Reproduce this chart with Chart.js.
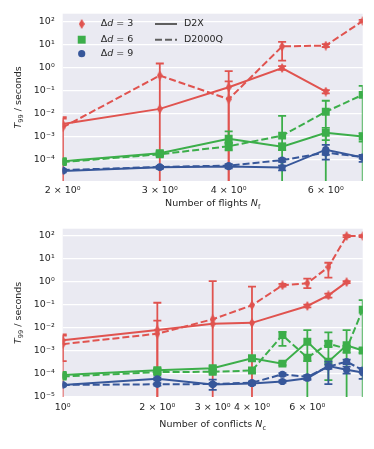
<!DOCTYPE html>
<html>
<head>
<meta charset="utf-8">
<script src="https://cdn.jsdelivr.net/npm/chart.js@4.4.0/dist/chart.umd.min.js"></script>
<style>
  html, body { margin:0; padding:0; background:#fff; }
  #wrap { position:relative; width:374px; height:449px; }
  #wrap canvas { position:absolute; left:0; }
</style>
</head>
<body>
<div id="wrap">
  <canvas id="chartFlights" width="374" height="215" style="top:0"></canvas>
  <canvas id="chartConflicts" width="374" height="234" style="top:215px"></canvas>
</div>
<script>
// ---- Data: number of flights (top)
const flights = [2, 3, 4, 5, 6, 7];
const flightTicks = [2, 3, 4, 6];
const fD3x   = [3.5e-3, 0.016, 0.14, 0.95, 0.09, null];
const fD3xLo = [0, null, 0, 0.8, 0.075, null];
const fD3xHi = [7e-3, null, 0.25, 1.15, 0.105, null];
const fD3q   = [2.5e-3, 0.45, 0.042, 8.3, 9.0, 105];
const fD3qLo = [0, 0, 0, 2.0, 7.8, 95];
const fD3qHi = [6e-3, 1.5, 0.7, 13, 10.5, 118];
const fD6x   = [8.5e-5, 1.9e-4, 8e-4, 3.6e-4, 1.45e-3, 1.0e-3];
const fD6xLo = [6.5e-5, 1.6e-4, 5e-4, 2.6e-4, 7e-4, 6e-4];
const fD6xHi = [1.05e-4, 2.2e-4, 1.7e-3, 5e-4, 2.4e-3, 1.4e-3];
const fD6q   = [7.8e-5, 1.7e-4, 3.8e-4, 1.1e-3, 0.012, 0.065];
const fD6qLo = [6.5e-5, 1.45e-4, 2.5e-4, 0, 0, 0];
const fD6qHi = [9.5e-5, 2.0e-4, 5.5e-4, 8e-3, 0.036, 0.16];
const fD9x   = [3.2e-5, 4.6e-5, 5.0e-5, 4.5e-5, 2.7e-4, 1.25e-4];
const fD9xLo = [2.8e-5, 4.0e-5, 4.2e-5, 3.4e-5, 1.0e-4, 8e-5];
const fD9xHi = [3.6e-5, 5.2e-5, 6.0e-5, 5.5e-5, 4.4e-4, 1.6e-4];
const fD9q   = [3.5e-5, 4.8e-5, 5.5e-5, 9.5e-5, 2.0e-4, 1.3e-4];
const fD9qLo = [3.1e-5, 4.3e-5, 4.8e-5, 8.0e-5, 1.6e-4, 1.1e-4];
const fD9qHi = [3.9e-5, 5.3e-5, 6.3e-5, 1.1e-4, 2.5e-4, 1.5e-4];

// ---- Data: number of conflicts (bottom)
const conflicts = [1, 2, 3, 4, 5, 6, 7, 8, 9];
const conflictTicks = [1, 2, 3, 4, 6];
const cD3x   = [2.8e-3, 7.8e-3, 0.0145, 0.016, null, 0.087, 0.25, 0.95, null];
const cD3xLo = [0, 0, null, null, null, 0.075, 0.2, 0.85, null];
const cD3xHi = [5e-3, 0.02, null, null, null, 0.1, 0.3, 1.05, null];
const cD3q   = [1.9e-3, 5.4e-3, 0.023, 0.093, 0.69, 0.85, 4.3, 95, 95];
const cD3qLo = [3.5e-4, 0, 0, 0, 0.6, 0.52, 1.5, 85, 85];
const cD3qHi = [4.5e-3, 0.12, 1.05, 0.6, 0.8, 1.35, 6.6, 105, 105];
const cD6x   = [8.7e-5, 1.4e-4, 1.7e-4, 4.6e-4, 2.7e-4, 2.4e-3, 3.3e-4, 1.7e-3, 1.0e-3];
const cD6xLo = [7e-5, 1.15e-4, 1.4e-4, 3.6e-4, 2.3e-4, 0, 5.2e-5, 0, 8e-4];
const cD6xHi = [1.05e-4, 1.7e-4, 2.1e-4, 5.8e-4, 3.2e-4, 7.8e-3, 6.2e-3, 7.8e-3, 1.3e-3];
const cD6q   = [7.4e-5, 1.15e-4, 1.2e-4, 1.35e-4, 4.7e-3, 4.9e-4, 2.0e-3, 1.2e-3, 0.06];
const cD6qLo = [6e-5, 9.5e-5, 1e-4, 1.1e-4, 1.6e-3, 3.5e-4, 1.4e-3, 8e-4, 0];
const cD6qHi = [9e-5, 1.4e-4, 1.45e-4, 1.6e-4, 6.5e-3, 6.5e-4, 2.6e-3, 1.6e-3, 0.155];
const cD9x   = [3.2e-5, 5.9e-5, 3.3e-5, 3.7e-5, 4.5e-5, 6.3e-5, 2.1e-4, 1.45e-4, 1.1e-4];
const cD9xLo = [2.8e-5, 5.0e-5, 1.95e-5, 3.2e-5, 4.0e-5, 5.3e-5, 3.5e-5, 1.0e-4, 5.9e-5];
const cD9xHi = [3.6e-5, 6.8e-5, 5.4e-5, 4.3e-5, 5.0e-5, 7.5e-5, 3.3e-4, 2.0e-4, 1.6e-4];
const cD9q   = [3.2e-5, 3.4e-5, 3.5e-5, 4.0e-5, 9.3e-5, 7.2e-5, 2.0e-4, 3.3e-4, 1.4e-4];
const cD9qLo = [2.9e-5, 3.0e-5, 3.1e-5, 3.5e-5, 8.0e-5, 6.0e-5, 1.6e-4, 2.6e-4, 1.1e-4];
const cD9qHi = [3.5e-5, 3.8e-5, 3.9e-5, 4.6e-5, 1.05e-4, 8.5e-5, 2.5e-4, 4.0e-4, 1.7e-4];

const deltaD = ['3', '6', '9'];
const solvers = ['D2X', 'D2000Q'];

// ---- Style
const FONT = '"DejaVu Sans", sans-serif';
const FS = 9.5;
const TXT = '#262626';
const BG = '#eaeaf2';
const RED = '#e0534f', GREEN = '#3cae4a', BLUE = '#37579a';
const DASH = [7, 3];

function thinDiamond(w, h, color){
    const c = document.createElement('canvas');
    c.width = w; c.height = h;
    const g = c.getContext('2d');
    g.fillStyle = color;
    g.beginPath();
    g.moveTo(w/2, 0); g.lineTo(w, h/2); g.lineTo(w/2, h); g.lineTo(0, h/2);
    g.closePath(); g.fill();
    return c;
}
const diamond = thinDiamond(6, 10, RED);
const markers = [
    { color: RED, style: diamond, r: 5 },
    { color: GREEN, style: 'rect', r: 5.6 },
    { color: BLUE, style: 'circle', r: 3.6 }
];

const SUP = { '0':'⁰','1':'¹','2':'²','3':'³','4':'⁴','5':'⁵','6':'⁶','7':'⁷','8':'⁸','9':'⁹','-':'⁻' };
const sup = n => String(n).split('').map(ch => SUP[ch]).join('');

// ---- Rich text (italic / subscript parts), centred on x,y
function richText(ctx, parts, x, y, rot){
    const fonts = parts.map(p => `${p.it ? 'italic ' : ''}${p.sub ? FS*0.7 : FS}px ${FONT}`);
    let w = 0;
    const ws = parts.map((p, i) => { ctx.font = fonts[i]; const m = ctx.measureText(p.t).width; w += m; return m; });
    ctx.save();
    ctx.translate(x, y);
    if (rot) ctx.rotate(rot);
    ctx.fillStyle = TXT;
    ctx.textBaseline = 'middle';
    ctx.textAlign = 'left';
    let cx = -w/2;
    parts.forEach((p, i) => {
        ctx.font = fonts[i];
        ctx.fillText(p.t, cx, p.sub ? FS*0.3 : 0);
        cx += ws[i];
    });
    ctx.restore();
}

// ---- Error bars, drawn right before each dataset
const errorBars = {
    id: 'errorBars',
    beforeDatasetDraw(chart, args){
        const ds = chart.data.datasets[args.index];
        if (!ds.errLo) return;
        const { ctx, chartArea: a, scales: { x, y } } = chart;
        ctx.save();
        ctx.beginPath();
        ctx.rect(a.left, a.top, a.right - a.left, a.bottom - a.top);
        ctx.clip();
        ctx.strokeStyle = ds.borderColor;
        ctx.lineWidth = 1.8;
        ds.data.forEach((p, i) => {
            const lo = ds.errLo[i], hi = ds.errHi[i];
            if (lo == null || hi == null || p.y == null) return;
            const px = x.getPixelForValue(p.x);
            const yHi = y.getPixelForValue(hi);
            const yLo = lo > 0 ? y.getPixelForValue(lo) : a.bottom + 5;
            ctx.beginPath();
            ctx.moveTo(px, yLo); ctx.lineTo(px, yHi);
            ctx.moveTo(px - 4, yHi); ctx.lineTo(px + 4, yHi);
            if (lo > 0) { ctx.moveTo(px - 4, yLo); ctx.lineTo(px + 4, yLo); }
            ctx.stroke();
        });
        ctx.restore();
    }
};

// ---- Axis titles and legend
const decorations = {
    id: 'decorations',
    afterDraw(chart, args, o){
        const { ctx, chartArea: a } = chart;
        richText(ctx, [{ t:'T', it:true }, { t:'99', sub:true }, { t:' / seconds' }], 18.3, (a.top + a.bottom)/2, -Math.PI/2);
        richText(ctx, [{ t:o.xTitle + ' ' }, { t:'N', it:true }, { t:o.xSub, sub:true }], (a.left + a.right)/2, a.bottom + o.titleGap);
        if (!o.legend) return;
        const rows = [24, 39.7, 53.7];
        markers.forEach((m, i) => {
            ctx.save();
            ctx.fillStyle = m.color; ctx.strokeStyle = m.color;
            Chart.helpers.drawPoint(ctx, { pointStyle: m.style, radius: m.r, borderWidth: 0, rotation: 0 }, 81.7, rows[i]);
            ctx.restore();
            ctx.save();
            ctx.fillStyle = TXT; ctx.textBaseline = 'middle';
            let cx = 100.7;
            [['Δ', ''], ['d', 'italic '], [' = ' + deltaD[i], '']].forEach(([t, st]) => {
                ctx.font = `${st}${FS}px ${FONT}`;
                ctx.fillText(t, cx, rows[i]);
                cx += ctx.measureText(t).width;
            });
            ctx.restore();
        });
        solvers.forEach((s, i) => {
            ctx.save();
            ctx.strokeStyle = '#5f5f5f';
            ctx.lineWidth = 2;
            ctx.setLineDash(i ? DASH : []);
            ctx.beginPath(); ctx.moveTo(155, rows[i]); ctx.lineTo(177, rows[i]); ctx.stroke();
            ctx.font = `${FS}px ${FONT}`; ctx.fillStyle = TXT; ctx.textBaseline = 'middle';
            ctx.fillText(s, 184, rows[i]);
            ctx.restore();
        });
    }
};

const plotBg = {
    id: 'plotBg',
    beforeDraw(chart){
        const { ctx, chartArea: a } = chart;
        ctx.save();
        ctx.fillStyle = BG;
        ctx.fillRect(a.left, a.top, a.right - a.left, a.bottom - a.top);
        ctx.restore();
    }
};

// ---- Chart builder
function series(xs, vals, lo, hi, mk, dashed){
    return {
        data: xs.map((x, i) => ({ x, y: vals[i] })),
        errLo: lo, errHi: hi,
        borderColor: mk.color,
        backgroundColor: mk.color,
        borderWidth: 2,
        borderDash: dashed ? DASH : [],
        pointStyle: mk.style,
        pointRadius: mk.r,
        pointBorderWidth: 0,
        pointBackgroundColor: mk.color,
        spanGaps: true,
        tension: 0
    };
}

function makeChart(id, cfg){
    return new Chart(document.getElementById(id), {
        type: 'line',
        data: { datasets: cfg.datasets },
        options: {
            responsive: false,
            animation: false,
            devicePixelRatio: 1,
            layout: { padding: { left: 0, right: 11.3, top: cfg.padTop, bottom: 0 } },
            plugins: {
                legend: { display: false },
                tooltip: { enabled: false },
                decorations: cfg.deco
            },
            scales: {
                x: {
                    type: 'logarithmic',
                    min: cfg.xMin, max: cfg.xMax,
                    grid: { display: false },
                    border: { display: false },
                    afterBuildTicks: s => { s.ticks = cfg.xTicks.map(v => ({ value: v })); },
                    afterFit: s => { s.height = cfg.xAxisH; },
                    ticks: {
                        autoSkip: false, maxRotation: 0, minRotation: 0, padding: cfg.xPad,
                        color: TXT, font: { family: FONT, size: FS },
                        callback: v => v === 1 ? '10⁰' : `${v} × 10⁰`
                    }
                },
                y: {
                    type: 'logarithmic',
                    min: cfg.yMin, max: cfg.yMax,
                    grid: { color: '#ffffff', lineWidth: 1.2, drawTicks: false },
                    border: { display: false },
                    afterBuildTicks: s => { s.ticks = cfg.yTicks.map(v => ({ value: v })); },
                    afterFit: s => { s.width = 62.7; },
                    ticks: {
                        padding: 8,
                        color: TXT, font: { family: FONT, size: FS },
                        callback: v => '10' + sup(Math.round(Math.log10(v)))
                    }
                }
            }
        },
        plugins: [plotBg, errorBars, decorations]
    });
}

const [mRed, mGreen, mBlue] = markers;

// datasets are drawn last-to-first: red at the bottom, blue on top
makeChart('chartFlights', {
    xMin: 2, xMax: 7, xTicks: flightTicks,
    yMin: Math.pow(10, -4.93), yMax: Math.pow(10, 2.34),
    yTicks: [1e-4, 1e-3, 1e-2, 1e-1, 1, 10, 100],
    padTop: 11, xAxisH: 34, xPad: -4,
    deco: { xTitle: 'Number of flights', xSub: 'f', titleGap: 23, legend: true },
    datasets: [
        series(flights, fD9x, fD9xLo, fD9xHi, mBlue, false),
        series(flights, fD9q, fD9qLo, fD9qHi, mBlue, true),
        series(flights, fD6x, fD6xLo, fD6xHi, mGreen, false),
        series(flights, fD6q, fD6qLo, fD6qHi, mGreen, true),
        series(flights, fD3x, fD3xLo, fD3xHi, mRed, false),
        series(flights, fD3q, fD3qLo, fD3qHi, mRed, true)
    ]
});

makeChart('chartConflicts', {
    xMin: 1, xMax: 9, xTicks: conflictTicks,
    yMin: Math.pow(10, -5.02), yMax: Math.pow(10, 2.3),
    yTicks: [1e-5, 1e-4, 1e-3, 1e-2, 1e-1, 1, 10, 100],
    padTop: 13, xAxisH: 52, xPad: -3,
    deco: { xTitle: 'Number of conflicts', xSub: 'c', titleGap: 28, legend: false },
    datasets: [
        series(conflicts, cD9x, cD9xLo, cD9xHi, mBlue, false),
        series(conflicts, cD9q, cD9qLo, cD9qHi, mBlue, true),
        series(conflicts, cD6x, cD6xLo, cD6xHi, mGreen, false),
        series(conflicts, cD6q, cD6qLo, cD6qHi, mGreen, true),
        series(conflicts, cD3x, cD3xLo, cD3xHi, mRed, false),
        series(conflicts, cD3q, cD3qLo, cD3qHi, mRed, true)
    ]
});
</script>
</body>
</html>
